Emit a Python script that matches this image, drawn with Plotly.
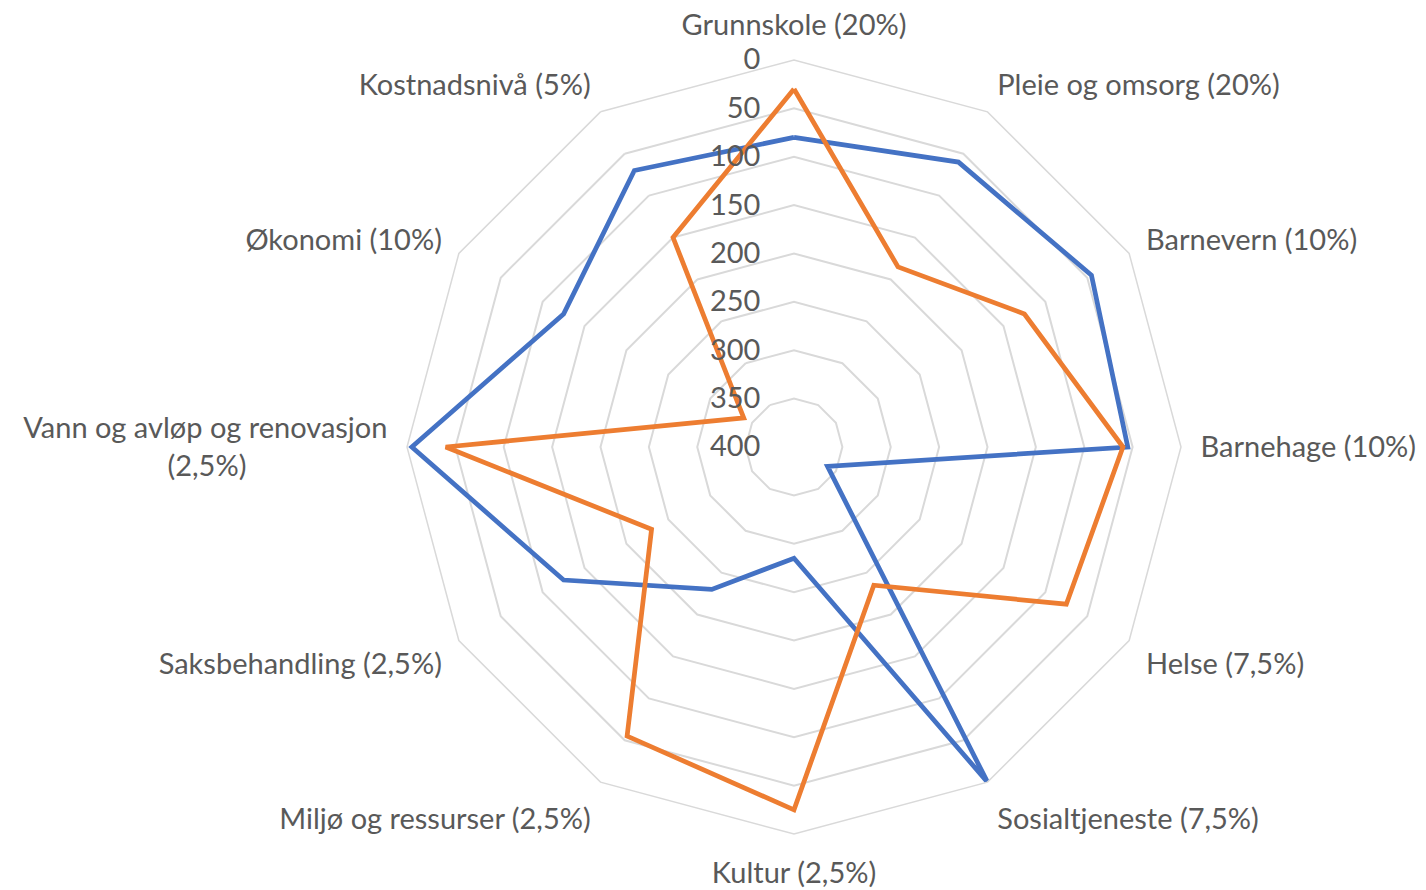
import plotly.graph_objects as go

categories = [
    "Grunnskole (20%)", "Pleie og omsorg (20%)", "Barnevern (10%)", "Barnehage (10%)",
    "Helse (7,5%)", "Sosialtjeneste (7,5%)", "Kultur (2,5%)", "Miljø og ressurser (2,5%)",
    "Saksbehandling (2,5%)",
    "Vann og avløp og renovasjon<br>(2,5%)" + "\u00a0" * 19,
    "Økonomi (10%)", "Kostnadsnivå (5%)",
]
series_blue = [80, 60, 45, 55, 360, 0, 285, 230, 125, 5, 125, 70]
series_orange = [30, 185, 125, 60, 75, 235, 25, 55, 230, 40, 340, 150]
radial_ticks = [0, 50, 100, 150, 200, 250, 300, 350, 400]

W, H = 1426, 890
OFF = 8  # default page body margin
cx, cy, R = 794 - OFF, 447 - OFF, 387

fig = go.Figure()
for vals, col in [(series_blue, "#4472C4"), (series_orange, "#ED7D31")]:
    fig.add_trace(go.Scatterpolar(
        r=vals + vals[:1], theta=categories + categories[:1],
        mode="lines", line=dict(color=col, width=4.75), showlegend=False,
        hoverinfo="skip",
    ))

fig.update_layout(
    width=W, height=H, margin=dict(l=0, r=0, t=0, b=0),
    paper_bgcolor="white", plot_bgcolor="white",
    font=dict(family="Lato, Carlito, sans-serif", size=29, color="#595959"),
    polar=dict(
        domain=dict(x=[(cx - R) / W, (cx + R) / W], y=[1 - (cy + R) / H, 1 - (cy - R) / H]),
        bgcolor="white",
        gridshape="linear",
        angularaxis=dict(
            direction="clockwise", rotation=90, showgrid=False, showline=True,
            linecolor="#d9d9d9", linewidth=1.5, ticks="outside", ticklen=13,
            tickcolor="rgba(0,0,0,0)", tickfont=dict(size=29, color="#595959"),
        ),
        radialaxis=dict(
            range=[400, 0], tickvals=radial_ticks, ticktext=[str(t) for t in radial_ticks],
            angle=90, tickangle=90, showline=False, showgrid=True, gridcolor="#d9d9d9",
            gridwidth=1.5, ticks="outside", ticklen=23, tickcolor="rgba(0,0,0,0)",
            side="counterclockwise",
            tickfont=dict(size=29, color="#595959"),
        ),
    ),
)
fig.write_html("out.html")
